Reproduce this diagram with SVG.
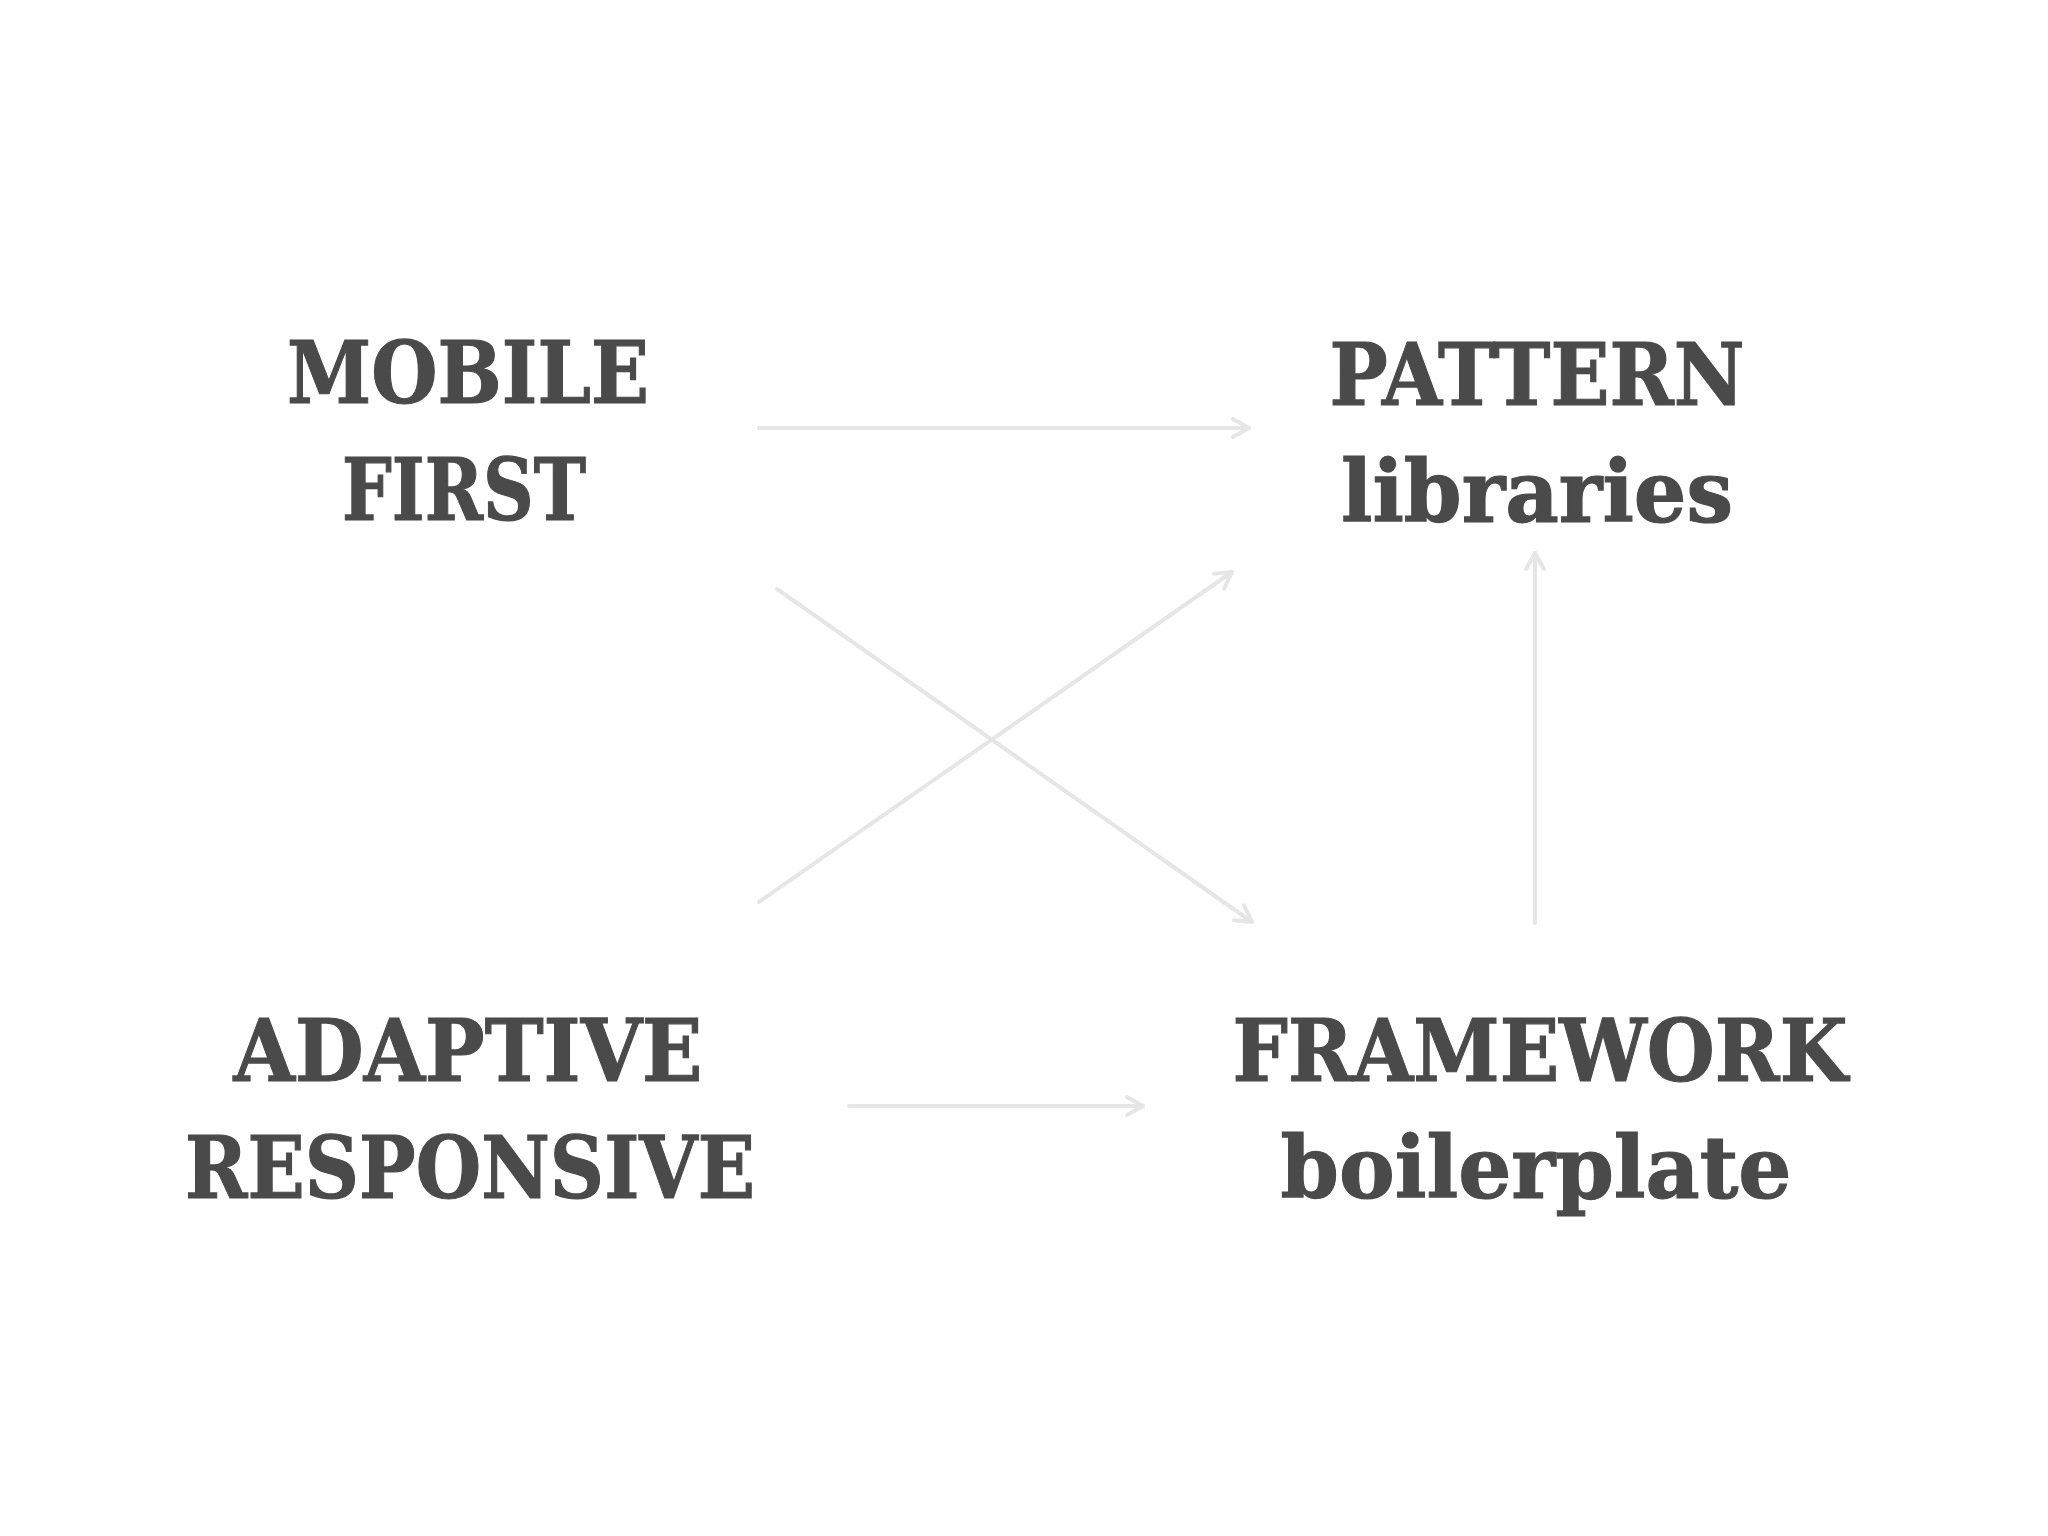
<svg xmlns="http://www.w3.org/2000/svg" width="2048" height="1536" viewBox="0 0 2048 1536">
<style>
.t{font-family:"DejaVu Serif","Liberation Serif",serif;font-weight:bold;font-size:86px;fill:#4a4a4a;stroke:#4a4a4a;stroke-width:1.2;text-anchor:middle}
.c{stroke:#e6e6e6;stroke-width:4;fill:none;stroke-linecap:round}
.h{stroke:#e6e6e6;stroke-width:4;fill:none;stroke-linecap:round;stroke-linejoin:round}
</style>
<defs>
<marker id="ah" viewBox="-20 -12 24 24" markerWidth="24" markerHeight="24" refX="0" refY="0" orient="auto" markerUnits="userSpaceOnUse">
<path d="M-16,-9 L0,0 L-16,9" class="h"/>
</marker>
</defs>
<rect width="2048" height="1536" fill="#ffffff"/>
<g id="connectors">
<line class="c" x1="759" y1="428" x2="1249" y2="428" marker-end="url(#ah)"/>
<line class="c" x1="849" y1="1106" x2="1143" y2="1106" marker-end="url(#ah)"/>
<line class="c" x1="777" y1="589" x2="1252" y2="922" marker-end="url(#ah)"/>
<line class="c" x1="759" y1="902" x2="1232" y2="572" marker-end="url(#ah)"/>
<line class="c" x1="1535" y1="923" x2="1535" y2="553" marker-end="url(#ah)"/>
</g>
<g id="mobile-first">
<text class="t" x="468" y="403" textLength="362" lengthAdjust="spacingAndGlyphs">MOBILE</text>
<text class="t" x="464" y="520" textLength="244" lengthAdjust="spacingAndGlyphs">FIRST</text>
</g>
<g id="pattern-libraries">
<text class="t" x="1537" y="405" textLength="415" lengthAdjust="spacingAndGlyphs">PATTERN</text>
<text class="t" x="1537" y="522" textLength="392" lengthAdjust="spacingAndGlyphs">libraries</text>
</g>
<g id="adaptive-responsive">
<text class="t" x="468" y="1081" textLength="469" lengthAdjust="spacingAndGlyphs">ADAPTIVE</text>
<text class="t" x="470" y="1198" textLength="570" lengthAdjust="spacingAndGlyphs">RESPONSIVE</text>
</g>
<g id="framework-boilerplate">
<text class="t" x="1540" y="1081" textLength="615" lengthAdjust="spacingAndGlyphs">FRAMEWORK</text>
<text class="t" x="1536" y="1198" textLength="511" lengthAdjust="spacingAndGlyphs">boilerplate</text>
</g>
</svg>
